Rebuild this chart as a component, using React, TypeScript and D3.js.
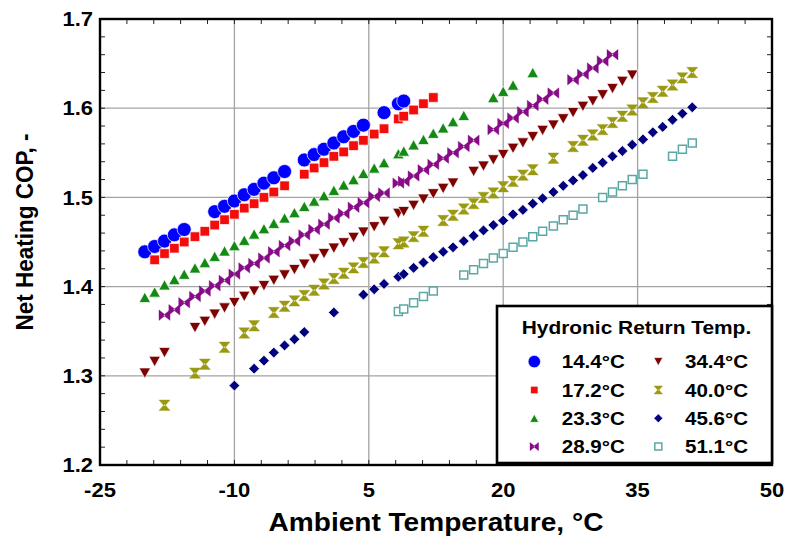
import React from 'react';
import * as d3 from 'd3';

// ---------- data (ambient temperature °C, net heating COP) ----------
const amb14_4 = [-20.0,-18.9,-17.8,-16.7,-15.6,-12.2,-11.1,-10.0,-8.9,-7.8,-6.7,-5.6,-4.4,-2.2,-1.1,0.0,1.1,2.2,3.3,4.4,6.7,8.3,8.9];
const cop14_4 = [1.439,1.445,1.451,1.458,1.464,1.484,1.490,1.496,1.503,1.509,1.516,1.522,1.529,1.542,1.548,1.554,1.561,1.568,1.574,1.581,1.595,1.605,1.608];

const amb17_2 = [-18.9,-17.8,-16.7,-15.6,-14.4,-13.3,-12.2,-11.1,-10.0,-8.9,-7.8,-6.7,-5.6,-4.4,-2.2,-1.1,0.0,1.1,2.2,3.3,4.4,5.6,6.7,8.3,8.9,10.0,11.1,12.2];
const cop17_2 = [1.430,1.437,1.443,1.450,1.456,1.462,1.469,1.475,1.481,1.488,1.493,1.500,1.506,1.513,1.526,1.533,1.539,1.546,1.551,1.558,1.564,1.571,1.577,1.588,1.591,1.598,1.605,1.612];

const amb23_3 = [-20.0,-18.9,-17.8,-16.7,-15.6,-14.4,-13.3,-12.2,-11.1,-10.0,-8.9,-7.8,-6.7,-5.6,-4.4,-3.3,-2.2,-1.1,0.0,1.1,2.2,3.3,4.4,5.6,6.7,8.3,8.9,10.0,11.1,12.2,13.3,14.4,15.6,18.9,20.0,21.1,23.3];
const cop23_3 = [1.388,1.394,1.402,1.408,1.414,1.421,1.427,1.434,1.440,1.446,1.452,1.459,1.465,1.471,1.477,1.483,1.490,1.496,1.502,1.508,1.514,1.520,1.527,1.533,1.539,1.549,1.552,1.559,1.565,1.572,1.578,1.585,1.592,1.612,1.619,1.626,1.640];

const amb28_9 = [-17.8,-16.7,-15.6,-14.4,-13.3,-12.2,-11.1,-10.0,-8.9,-7.8,-6.7,-5.6,-4.4,-3.3,-2.2,-1.1,0.0,1.1,2.2,3.3,4.4,5.6,6.7,8.3,8.9,10.0,11.1,12.2,13.3,14.4,15.6,16.7,18.9,20.0,21.1,22.2,23.3,24.4,25.6,27.8,28.9,30.0,31.1,32.2];
const cop28_9 = [1.368,1.374,1.382,1.389,1.395,1.401,1.407,1.414,1.421,1.426,1.432,1.439,1.446,1.451,1.458,1.464,1.470,1.477,1.482,1.489,1.494,1.501,1.505,1.516,1.518,1.524,1.531,1.537,1.544,1.550,1.557,1.564,1.576,1.583,1.589,1.596,1.603,1.610,1.617,1.632,1.638,1.645,1.653,1.660];

const amb34_4 = [-20.0,-18.9,-17.8,-14.4,-13.3,-12.2,-11.1,-10.0,-8.9,-7.8,-6.7,-5.6,-4.4,-3.3,-2.2,-1.1,0.0,1.1,2.2,3.3,4.4,5.6,6.7,8.3,8.9,10.0,11.1,12.2,13.3,14.4,16.7,17.8,18.9,20.0,21.1,22.2,23.3,24.4,25.6,26.7,27.8,28.9,30.0,31.1,32.2,33.3,34.4];
const cop34_4 = [1.303,1.316,1.326,1.354,1.361,1.369,1.376,1.382,1.389,1.395,1.401,1.407,1.413,1.419,1.425,1.431,1.437,1.443,1.449,1.455,1.461,1.467,1.473,1.482,1.484,1.491,1.498,1.504,1.510,1.516,1.529,1.535,1.542,1.548,1.555,1.561,1.568,1.575,1.581,1.588,1.595,1.602,1.608,1.615,1.622,1.630,1.637];

const amb40_0 = [-17.8,-14.4,-13.3,-11.1,-8.9,-7.8,-5.6,-4.4,-3.3,-2.2,-1.1,0.0,1.1,2.2,3.3,4.4,5.6,6.7,8.3,8.9,10.0,11.1,13.3,14.4,15.6,16.7,17.8,18.9,20.0,21.1,22.2,23.3,25.6,27.8,28.9,30.0,31.1,32.2,33.3,34.4,35.6,36.7,37.8,38.9,40.0,41.1];
const cop40_0 = [1.267,1.303,1.313,1.332,1.348,1.356,1.371,1.378,1.384,1.390,1.396,1.403,1.409,1.415,1.421,1.427,1.432,1.439,1.448,1.450,1.456,1.462,1.474,1.480,1.487,1.493,1.500,1.505,1.512,1.518,1.525,1.531,1.544,1.557,1.564,1.570,1.576,1.584,1.591,1.598,1.606,1.612,1.619,1.626,1.634,1.640];

const amb45_6 = [-10.0,-7.8,-6.7,-5.6,-4.4,-3.3,-2.2,1.1,4.4,5.6,6.7,8.3,8.9,10.0,11.1,12.2,13.3,14.4,15.6,16.7,17.8,18.9,20.0,21.1,22.2,23.3,24.4,25.6,26.7,27.8,28.9,30.0,31.1,32.2,33.3,34.4,35.6,36.7,37.8,38.9,40.0,41.1];
const cop45_6 = [1.289,1.308,1.317,1.326,1.334,1.341,1.349,1.371,1.391,1.397,1.403,1.411,1.414,1.421,1.427,1.433,1.439,1.444,1.451,1.457,1.463,1.469,1.474,1.481,1.486,1.493,1.499,1.506,1.513,1.519,1.525,1.533,1.539,1.546,1.552,1.559,1.565,1.573,1.579,1.587,1.594,1.601];

const amb51_1 = [8.3,8.9,10.0,11.1,12.2,15.6,16.7,17.8,18.9,20.0,21.1,22.2,23.3,24.4,25.6,26.7,27.8,28.9,31.1,32.2,33.3,34.4,35.6,38.9,40.0,41.1];
const cop51_1 = [1.372,1.375,1.382,1.389,1.395,1.413,1.419,1.426,1.432,1.437,1.444,1.450,1.456,1.462,1.468,1.475,1.480,1.487,1.500,1.506,1.513,1.520,1.526,1.546,1.554,1.561];

const seriesLabels = ['14.4°C','17.2°C','23.3°C','28.9°C','34.4°C','40.0°C','45.6°C','51.1°C'];
const xTickValues = [-25,-10,5,20,35,50];
const yTickValues = [1.2,1.3,1.4,1.5,1.6,1.7];

// ---------- custom symbol types (size = nominal width in px) ----------
type Ctx = { moveTo(x:number,y:number):void; lineTo(x:number,y:number):void; closePath():void; arc(x:number,y:number,r:number,a0:number,a1:number):void; rect(x:number,y:number,w:number,h:number):void };
const symCircle = { draw(c: Ctx, s: number) { c.moveTo(s/2,0); c.arc(0,0,s/2,0,2*Math.PI); } };
const symSquare = { draw(c: Ctx, s: number) { c.rect(-s/2,-s/2,s,s); } };
const symTriUp = { draw(c: Ctx, s: number) { const h=s*0.9; c.moveTo(0,-h/2); c.lineTo(s/2,h/2); c.lineTo(-s/2,h/2); c.closePath(); } };
const symTriDown = { draw(c: Ctx, s: number) { const h=s*0.9; c.moveTo(-s/2,-h/2); c.lineTo(s/2,-h/2); c.lineTo(0,h/2); c.closePath(); } };
const symBowtie = { draw(c: Ctx, s: number) { const h=s*0.95, n=s*0.1; c.moveTo(-s/2,-h/2); c.lineTo(n,0); c.lineTo(-s/2,h/2); c.closePath(); c.moveTo(s/2,-h/2); c.lineTo(-n,0); c.lineTo(s/2,h/2); c.closePath(); } };
const symHourglass = { draw(c: Ctx, s: number) { const h=s*0.95, n=s*0.1; c.moveTo(-s/2,-h/2); c.lineTo(s/2,-h/2); c.lineTo(0,n); c.closePath(); c.moveTo(-s/2,h/2); c.lineTo(s/2,h/2); c.lineTo(0,-n); c.closePath(); } };
const symDiamond = { draw(c: Ctx, s: number) { c.moveTo(0,-s/2); c.lineTo(s/2,0); c.lineTo(0,s/2); c.lineTo(-s/2,0); c.closePath(); } };

type Series = { label: string; xs: number[]; ys: number[]; type: any; size: number; legendSize: number; color: string; open?: boolean; outline?: boolean };

const series: Series[] = [
  { label: seriesLabels[0], xs: amb14_4, ys: cop14_4, type: symCircle, size: 14, legendSize: 12.5, color: '#0000ff', outline: true },
  { label: seriesLabels[1], xs: amb17_2, ys: cop17_2, type: symSquare, size: 9.6, legendSize: 7.5, color: '#f20c0c', outline: true },
  { label: seriesLabels[2], xs: amb23_3, ys: cop23_3, type: symTriUp, size: 11.5, legendSize: 9, color: '#138a13', outline: true },
  { label: seriesLabels[3], xs: amb28_9, ys: cop28_9, type: symBowtie, size: 11, legendSize: 8.5, color: '#870a87' },
  { label: seriesLabels[4], xs: amb34_4, ys: cop34_4, type: symTriDown, size: 11.5, legendSize: 9, color: '#7d0303', outline: true },
  { label: seriesLabels[5], xs: amb40_0, ys: cop40_0, type: symHourglass, size: 11, legendSize: 8.5, color: '#9a9a12' },
  { label: seriesLabels[6], xs: amb45_6, ys: cop45_6, type: symDiamond, size: 10.8, legendSize: 9, color: '#02027f', outline: true },
  { label: seriesLabels[7], xs: amb51_1, ys: cop51_1, type: symSquare, size: 8, legendSize: 7, color: '#5aa8a6', open: true },
];

const W = 789, H = 540;
const PL = 100, PR = 772, PT = 19, PB = 465;
const FONT = '"Liberation Sans", Arial, Helvetica, sans-serif';
const SX = 1.1; // horizontal stretch of the text in the reference

const x = d3.scaleLinear().domain([-25, 50]).range([PL, PR]);
const y = d3.scaleLinear().domain([1.2, 1.7]).range([PB, PT]);

function T({ x: tx, y: ty, size, anchor = 'start', children, rot = false }: any) {
  const tr = rot ? `translate(${tx},${ty}) rotate(-90) scale(1,${SX})` : `translate(${tx},${ty}) scale(${SX},1)`;
  return (
    <g transform={tr}>
      <text x={0} y={0} fontFamily={FONT} fontWeight="bold" fontSize={size} textAnchor={anchor} fill="#000">{children}</text>
    </g>
  );
}

function Marker({ s, cx, cy, size }: { s: Series; cx: number; cy: number; size: number }) {
  const d = d3.symbol().type(s.type).size(size)() as string;
  return (
    <path
      d={d}
      transform={`translate(${cx},${cy})`}
      fill={s.open ? '#fff' : s.color}
      stroke={s.open ? s.color : s.outline ? '#ffffff' : s.color}
      strokeWidth={s.open ? 1.5 : s.outline ? 0.7 : 0.4}
    />
  );
}

export default function App() {
  const gridX = xTickValues.slice(1, -1);
  const gridY = yTickValues.slice(1, -1);
  const minorX = d3.range(-25, 50.001, 3);
  const minorY = d3.range(1.2, 1.7001, 0.02);
  const tl = 5;

  const legendRows = [368.3, 396.7, 425, 453.3];
  const legendCols = [{ mx: 534.3, tx: 561.7 }, { mx: 658.3, tx: 685 }];

  return (
    <svg width={W} height={H} viewBox={`0 0 ${W} ${H}`} style={{ position: 'absolute', left: 0, top: 0, background: '#fff' }}>
      <rect x={0} y={0} width={W} height={H} fill="#fff" />
      {/* grid */}
      {gridX.map(v => <line key={'gx' + v} x1={x(v)} x2={x(v)} y1={PT} y2={PB} stroke="#a3a3a3" strokeWidth={1.3} />)}
      {gridY.map(v => <line key={'gy' + v} x1={PL} x2={PR} y1={y(v)} y2={y(v)} stroke="#a3a3a3" strokeWidth={1.3} />)}
      {/* minor ticks */}
      {minorX.map(v => (
        <g key={'mx' + v}>
          <line x1={x(v)} x2={x(v)} y1={PT} y2={PT + tl} stroke="#222" strokeWidth={1} />
          <line x1={x(v)} x2={x(v)} y1={PB} y2={PB - tl} stroke="#222" strokeWidth={1} />
        </g>
      ))}
      {minorY.map(v => (
        <g key={'my' + v}>
          <line x1={PL} x2={PL + tl} y1={y(v)} y2={y(v)} stroke="#222" strokeWidth={1} />
          <line x1={PR} x2={PR - tl} y1={y(v)} y2={y(v)} stroke="#222" strokeWidth={1} />
        </g>
      ))}
      {/* data */}
      {series.map((s, si) => (
        <g key={'s' + si}>
          {s.xs.map((xv, i) => <Marker key={i} s={s} cx={x(xv)} cy={y(s.ys[i])} size={s.size} />)}
        </g>
      ))}
      {/* frame */}
      <rect x={PL} y={PT} width={PR - PL} height={PB - PT} fill="none" stroke="#000" strokeWidth={2.4} />
      {/* tick labels */}
      {xTickValues.map(v => <T key={'xt' + v} x={x(v)} y={497} size={20} anchor="middle">{String(v)}</T>)}
      {yTickValues.map(v => <T key={'yt' + v} x={93} y={y(v) + 7.2} size={20} anchor="end">{v.toFixed(1)}</T>)}
      {/* axis titles */}
      <T x={(PL + PR) / 2} y={530.5} size={25.5} anchor="middle">Ambient Temperature, °C</T>
      <T x={33} y={232} size={22.5} anchor="middle" rot>Net Heating COP, -</T>
      {/* legend */}
      <rect x={497} y={306} width={PR - 497} height={157} fill="#fff" stroke="#000" strokeWidth={2.6} />
      <T x={521.7} y={334.3} size={19} anchor="start">Hydronic Return Temp.</T>
      {series.map((s, i) => {
        const col = legendCols[Math.floor(i / 4)];
        const by = legendRows[i % 4];
        return (
          <g key={'lg' + i}>
            <Marker s={s} cx={col.mx} cy={by - 6.7} size={s.legendSize} />
            <T x={col.tx} y={by} size={18.7} anchor="start">{s.label}</T>
          </g>
        );
      })}
    </svg>
  );
}
